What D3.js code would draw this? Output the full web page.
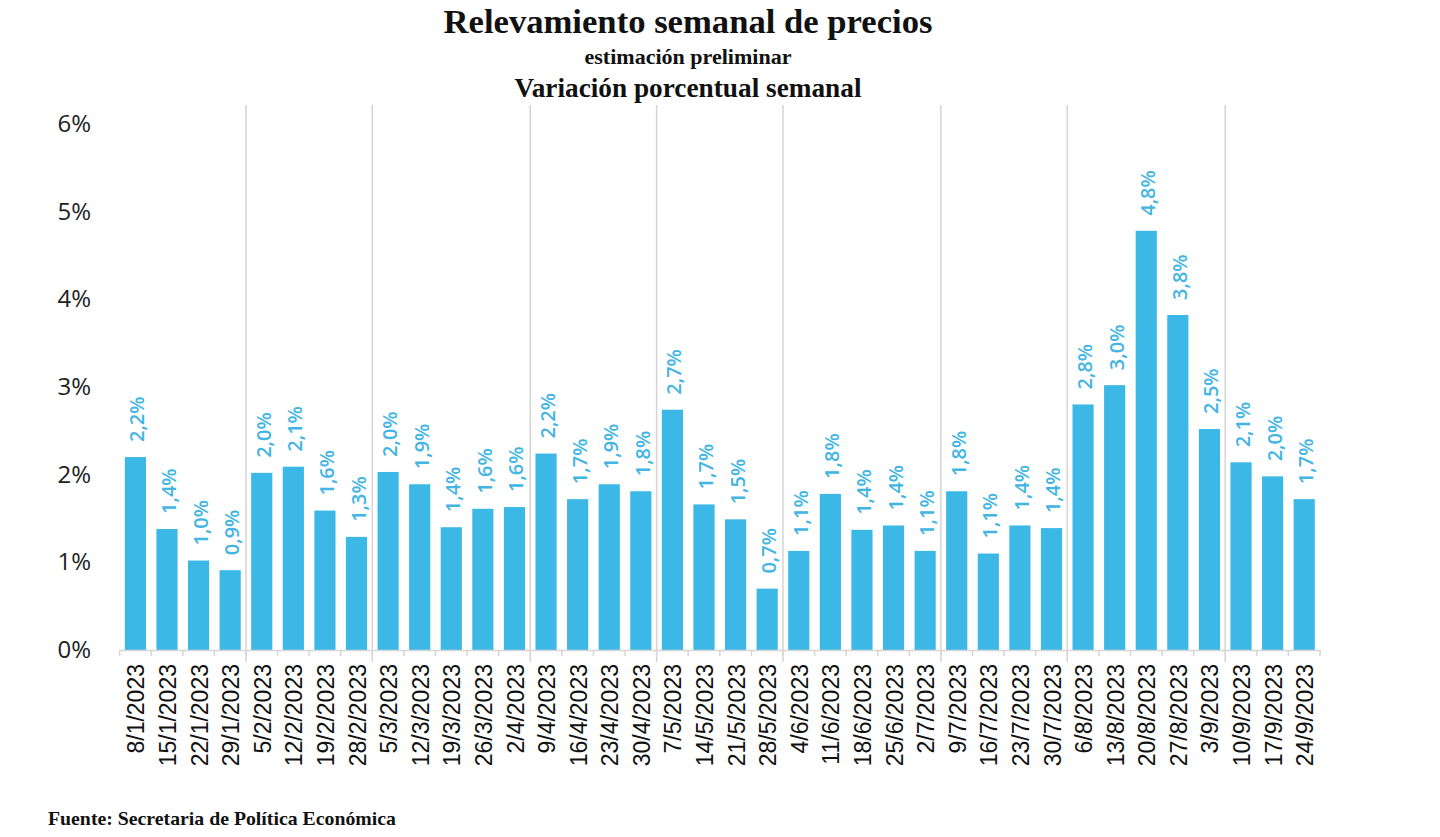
<!DOCTYPE html>
<html>
<head>
<meta charset="utf-8">
<script src="https://cdn.jsdelivr.net/npm/d3@7"></script>
<style>
  html, body { margin: 0; padding: 0; background: #fff; }
  svg { display: block; }
</style>
</head>
<body>
<svg id="chart" width="1440" height="837"></svg>
<script>
const categories = ["8/1/2023","15/1/2023","22/1/2023","29/1/2023","5/2/2023","12/2/2023","19/2/2023","28/2/2023",
  "5/3/2023","12/3/2023","19/3/2023","26/3/2023","2/4/2023","9/4/2023","16/4/2023","23/4/2023","30/4/2023",
  "7/5/2023","14/5/2023","21/5/2023","28/5/2023","4/6/2023","11/6/2023","18/6/2023","25/6/2023","2/7/2023",
  "9/7/2023","16/7/2023","23/7/2023","30/7/2023","6/8/2023","13/8/2023","20/8/2023","27/8/2023","3/9/2023",
  "10/9/2023","17/9/2023","24/9/2023"];
const values = [2.2,1.38,1.02,0.91,2.02,2.09,1.59,1.29,2.03,1.89,1.40,1.61,1.63,2.24,1.72,1.89,1.81,
  2.74,1.66,1.49,0.70,1.13,1.78,1.37,1.42,1.13,1.81,1.10,1.42,1.39,2.80,3.02,4.78,3.82,2.52,2.14,1.98,1.72];
const yTicks = [0,1,2,3,4,5,6];
const monthStarts = ["5/2/2023","5/3/2023","9/4/2023","7/5/2023","4/6/2023","9/7/2023","6/8/2023","10/9/2023"];
const titleText = "Relevamiento semanal de precios";
const subtitleText = "estimación preliminar";
const subtitle2Text = "Variación porcentual semanal";
const sourceText = "Fuente: Secretaria de Política Económica";

const svg = d3.select("#chart");
const barColor = "#3cb8e7";
const labelColor = "#42b5e3";
const serif = "'Liberation Serif', 'Times New Roman', serif";

const x = d3.scaleBand().domain(categories).range([119.6, 1320]).paddingInner(0.33).paddingOuter(0.165);
const y = d3.scaleLinear().domain([0, 6]).range([650, 123.8]);
const step = x.step();

// month separators
svg.append("g").selectAll("line").data(monthStarts).join("line")
  .attr("x1", d => x(d) - step * 0.165)
  .attr("x2", d => x(d) - step * 0.165)
  .attr("y1", 105).attr("y2", 662)
  .attr("stroke", "#d4d4d4").attr("stroke-width", 1.5);

// bars
svg.append("g").selectAll("rect").data(values).join("rect")
  .attr("x", (d, i) => x(categories[i]))
  .attr("width", x.bandwidth())
  .attr("y", d => y(d))
  .attr("height", d => y(0) - y(d))
  .attr("fill", barColor);

// bar labels
const fmt = v => d3.format(".1f")(v).replace(".", ",") + "%";
svg.append("g").selectAll("text").data(values).join("text")
  .attr("transform", (d, i) => `translate(${x(categories[i]) + x.bandwidth() / 2 + 9},${y(d) - 15}) rotate(-90)`)
  .attr("font-family", "'Open Sans', sans-serif")
  .attr("font-size", 20).attr("font-weight", 600)
  .attr("fill", labelColor)
  .text(fmt);

// x axis
const xAxis = d3.axisBottom(x).tickSize(0).tickPadding(0);
const gx = svg.append("g").attr("transform", "translate(0,650)").call(xAxis);
gx.select(".domain").attr("stroke", "#d6d6d6").attr("stroke-width", 1.5);
gx.selectAll(".tick text")
  .attr("transform", "translate(1,14) rotate(-90)")
  .attr("text-anchor", "end").attr("dy", "0.35em").attr("dx", 0).attr("y", 0)
  .attr("font-family", "'Liberation Sans', Arial, sans-serif")
  .attr("font-size", 23).attr("fill", "#111");
// small tick marks at band boundaries
svg.append("g").selectAll("line").data(d3.range(categories.length + 1)).join("line")
  .attr("x1", i => 119.6 + i * step).attr("x2", i => 119.6 + i * step)
  .attr("y1", 650).attr("y2", 656)
  .attr("stroke", "#d6d6d6").attr("stroke-width", 1.5);

// y axis labels
const yAxis = d3.axisLeft(y).tickValues(yTicks).tickFormat(d => d + "%").tickSize(0).tickPadding(0);
const gy = svg.append("g").attr("transform", "translate(91,0)").call(yAxis);
gy.select(".domain").remove();
gy.selectAll(".tick text")
  .attr("font-family", "'Open Sans', sans-serif")
  .attr("font-size", 24).attr("fill", "#222");

// titles
svg.append("text").attr("x", 688).attr("y", 33).attr("text-anchor", "middle")
  .attr("font-family", serif).attr("font-weight", "bold")
  .attr("font-size", 34).attr("fill", "#111")
  .attr("textLength", 489).attr("lengthAdjust", "spacingAndGlyphs").text(titleText);
svg.append("text").attr("x", 688).attr("y", 64).attr("text-anchor", "middle")
  .attr("font-family", serif).attr("font-weight", "bold")
  .attr("font-size", 20).attr("fill", "#111")
  .attr("textLength", 207).attr("lengthAdjust", "spacingAndGlyphs").text(subtitleText);
svg.append("text").attr("x", 688).attr("y", 97).attr("text-anchor", "middle")
  .attr("font-family", serif).attr("font-weight", "bold")
  .attr("font-size", 27).attr("fill", "#111")
  .attr("textLength", 347).attr("lengthAdjust", "spacingAndGlyphs").text(subtitle2Text);
svg.append("text").attr("x", 48).attr("y", 825)
  .attr("font-family", serif).attr("font-weight", "bold")
  .attr("font-size", 19).attr("fill", "#111")
  .attr("textLength", 348).attr("lengthAdjust", "spacingAndGlyphs").text(sourceText);
</script>
</body>
</html>
